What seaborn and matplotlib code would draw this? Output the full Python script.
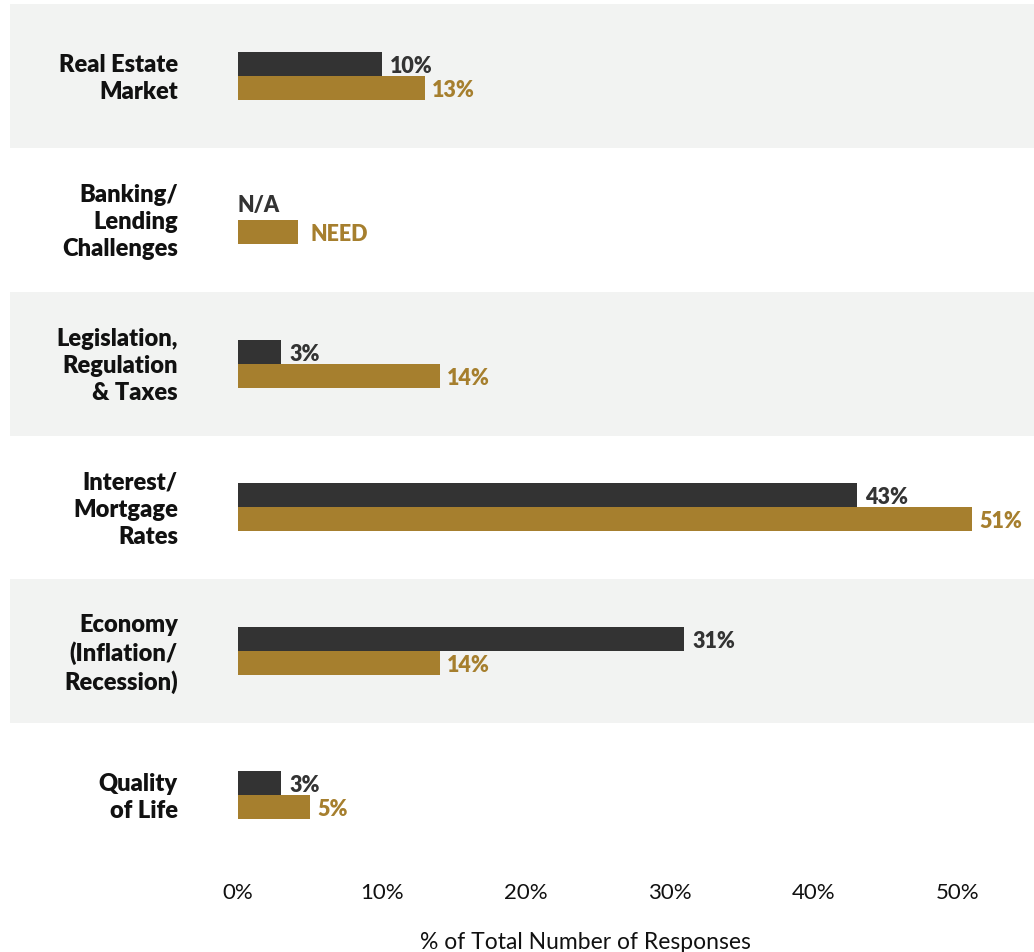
import numpy as np
import pandas as pd
import matplotlib
matplotlib.use("Agg")
import matplotlib.pyplot as plt
import seaborn as sns

categories = ["Real Estate\nMarket", "Banking/\nLending\nChallenges", "Legislation,\nRegulation\n& Taxes",
              "Interest/\nMortgage\nRates", "Economy\n(Inflation/\nRecession)", "Quality\nof Life"]
series = ["Prior", "Current"]
prior_values = [10, np.nan, 3, 43, 31, 3]
current_values = [13, 4.2, 14, 51, 14, 5]
prior_labels = ["10%", "N/A", "3%", "43%", "31%", "3%"]
current_labels = ["13%", "NEED", "14%", "51%", "14%", "5%"]
tick_values = [0, 10, 20, 30, 40, 50]
tick_labels = ["0%", "10%", "20%", "30%", "40%", "50%"]
xlabel = "% of Total Number of Responses"

DARK = "#333333"
GOLD = "#a67f2e"
BAND = "#f2f3f2"

sns.set_theme(style="white")
plt.rcParams["font.family"] = ["Lato", "DejaVu Sans"]

df = pd.DataFrame({
    "category": categories * 2,
    "series": [series[0]] * len(categories) + [series[1]] * len(categories),
    "value": prior_values + current_values,
})

W, H = 1034, 953
fig = plt.figure(figsize=(W / 100, H / 100), dpi=100)
ax = fig.add_axes([10 / W, 1 - 868 / H, 1024 / W, 863 / H])

for i in range(len(categories)):
    if i % 2 == 0:
        ax.axhspan(i - 0.5, i + 0.5, color=BAND, zorder=0, lw=0)

sns.barplot(data=df.dropna(), y="category", x="value", hue="series", order=categories,
            hue_order=series, orient="h", palette=[DARK, GOLD], width=1 / 3,
            saturation=1, legend=False, ax=ax, zorder=2, linewidth=0, edgecolor="none")

px = 14.4  # pixels per percent
x0 = -(238 - 10) / px
x1 = (1034 - 238) / px
ax.set_xlim(x0, x1)
ax.set_ylim(len(categories) - 0.5, -0.5)

off = 1 / 12
dy = 0.01
for i, cat in enumerate(categories):
    ax.text(-60 / px, i + dy, cat, ha="right", va="center", fontsize=17, fontweight="heavy",
            color="#111111", linespacing=1.27)
    pv = prior_values[i]
    if np.isnan(pv):
        ax.text(0, i - off - 0.02, prior_labels[i], ha="left", va="center", fontsize=15.5,
                fontweight="heavy", color=DARK)
    else:
        ax.text(pv + 0.55, i - off + dy, prior_labels[i], ha="left", va="center", fontsize=15.5,
                fontweight="heavy", color=DARK)
    cv = current_values[i]
    extra = 0.85 if current_labels[i] == "NEED" else 0.5
    ax.text(cv + extra, i + off + dy, current_labels[i], ha="left", va="center", fontsize=15.5,
            fontweight="heavy", color=GOLD)

ax.set_yticks([])
ax.set_ylabel("")
ax.set_xticks(tick_values)
ax.set_xticklabels(tick_labels, fontsize=16, color="#111111")
ax.tick_params(axis="x", length=0, pad=11)
ax.set_xlabel(xlabel, fontsize=16.5, color="#111111", va="center")
ax.xaxis.set_label_coords((585 - 10) / 1024, -75 / 863)
for s in ax.spines.values():
    s.set_visible(False)
ax.grid(False)

fig.savefig("out.png", dpi=100, facecolor="white")
